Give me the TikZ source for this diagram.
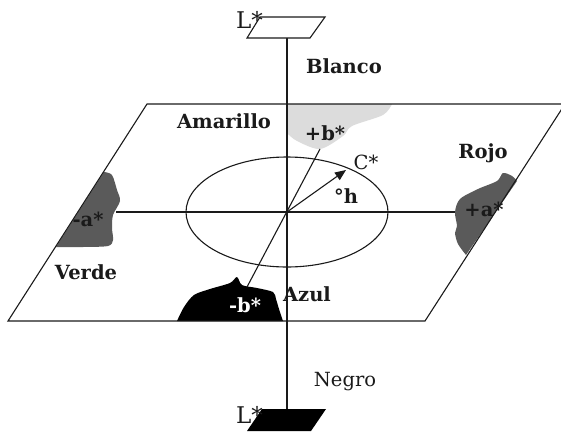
\documentclass[tikz,border=0pt]{standalone}
\usepackage{fontspec}
\setmainfont{DejaVu Serif}
\usepackage{tikz}
\usetikzlibrary{arrows.meta}
\definecolor{labink}{HTML}{1A1A1A}
\definecolor{labdark}{HTML}{5A5A5A}
\definecolor{labpale}{HTML}{DCDCDC}
\tikzset{
  labline/.style={draw=labink, line width=1.1pt},
  labname/.style={font=\fontsize{19.5}{22}\selectfont\bfseries, inner sep=0pt, text=labink},
  labplain/.style={font=\fontsize{19.5}{22}\selectfont, inner sep=0pt, text=labink},
  labend/.style={labplain, font=\fontsize{23}{26}\selectfont, anchor=east},
  labarrow/.style={-{Triangle[length=11pt,width=9pt]}, labline}
}
\begin{document}
\begin{tikzpicture}[x=1pt,y=-1pt]
\useasboundingbox (0,0) rectangle (561,431);
% colour blobs on the a*b* plane
\fill[labpale] (288,104) -- (392,104) -- plot[smooth] coordinates {(392,104) (383,115) (352,126) (343,136) (320,149) (297,141) (288,134)} -- cycle;
\fill[labdark] (104,172) -- plot[smooth] coordinates {(104,172) (112,175) (117,190) (120,201) (113,215) (112,228) (113,240) (108,246) (83,247) (56,247)} -- cycle;
\fill[labdark] (466,255) -- plot[smooth] coordinates {(466,255) (458,244) (455,233) (457,226) (455,212) (460,199) (478,189) (497,181) (503,173) (512,176) (517,181)} -- cycle;
\fill[black] (177,321) -- plot[smooth] coordinates {(177,321) (184,307) (194,295) (210,289) (230,283) (237,277) (242,285) (257,288) (273,292) (276,299) (279,309) (283,321)} -- cycle;
% plane
\draw[labline] (147,104) -- (565,104) -- (425,321) -- (8,321) -- cycle;
% end points of the axes
\coordinate (O) at (287,212);
\coordinate (Ltop) at (287,38);
\coordinate (Lbot) at (287,409);
\coordinate (aneg) at (116,212);
\coordinate (apos) at (455,212);
\coordinate (bneg) at (247,287);
\coordinate (bpos) at (320,149);
\coordinate (cstar) at (346,170);
\draw[labline] (O) ellipse [x radius=101pt, y radius=55pt];
\draw[labline] (Ltop) -- (Lbot);
\draw[labline] (aneg) -- (apos);
\draw[labline] (bneg) -- (bpos);
\draw[labarrow] (O) -- (cstar);
% lightness ends
\draw[labline, fill=white] (260,17) -- (325,17) -- (310,38) -- (247,38) -- cycle;
\fill[black] (262,409) -- (326,409) -- (311,431) -- (247,431) -- cycle;
% labels
\node[labend] (lwhite) at (263,20) {L*};
\node[labend] (lblack) at (263,415) {L*};
\node[labname] (blanco) at (344,66) {Blanco};
\node[labplain] (negro) at (345,382) {Negro};
\node[labname] (amarillo) at (224,121) {Amarillo};
\node[labname] (bplus) at (325,133) {+b*};
\node[labplain] (chroma) at (366,162) {C*};
\node[labname] (hue) at (346,196) {°h};
\node[labname] (rojo) at (483,153) {Rojo};
\node[labname] (aplus) at (484,209) {+a*};
\node[labname] (aminus) at (88,219) {-a*};
\node[labname] (verde) at (86,272) {Verde};
\node[labname, text=white] (bminus) at (245,305) {-b*};
\node[labname] (azul) at (307,294) {Azul};
\end{tikzpicture}
\end{document}
